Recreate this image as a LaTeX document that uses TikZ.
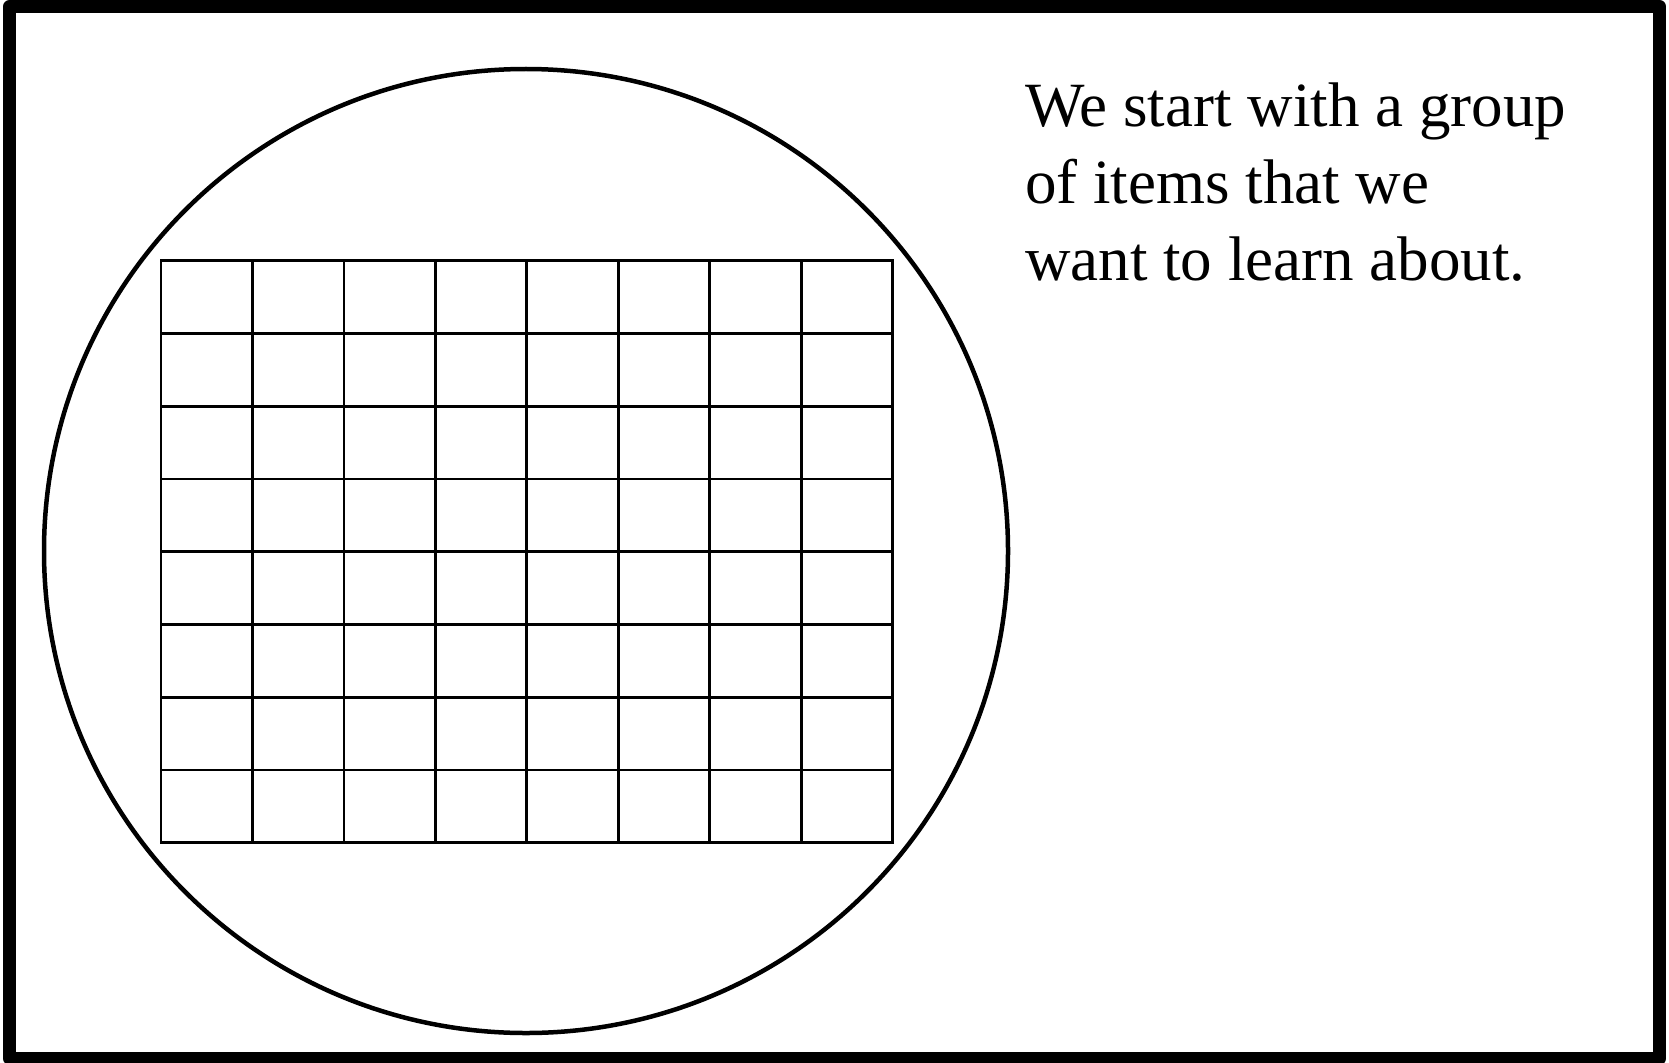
\documentclass[tikz,border=0pt]{standalone}
\usepackage{fontspec}
\setmainfont{Liberation Serif}
\begin{document}
\begin{tikzpicture}[x=1pt,y=-1pt,
  frame/.style={line width=13pt, line join=round},
  ring/.style={line width=4.5pt},
  gridline/.style={line width=2.8pt, line cap=rect},
  caption/.style={font=\fontsize{63}{77}\selectfont, anchor=base west, inner sep=0pt}]
\useasboundingbox (0,0) rectangle (1669,1062);
\draw[frame] (9.5,6.5) rectangle (1659.5,1058.5);
\draw[ring] (526,551) circle[radius=482];
\foreach \i in {0,...,8} {
  \draw[gridline] ({161+\i*91.46},260.7) -- ({161+\i*91.46},842.7);
  \draw[gridline] (161,{260.7+\i*72.75}) -- (892.7,{260.7+\i*72.75});
}
\node[caption] (l1) at (1025,126.7) {We start with a group};
\node[caption] (l2) at (1025,203.3) {of items that we};
\node[caption] (l3) at (1025,280) {want to learn about.};
\end{tikzpicture}
\end{document}
